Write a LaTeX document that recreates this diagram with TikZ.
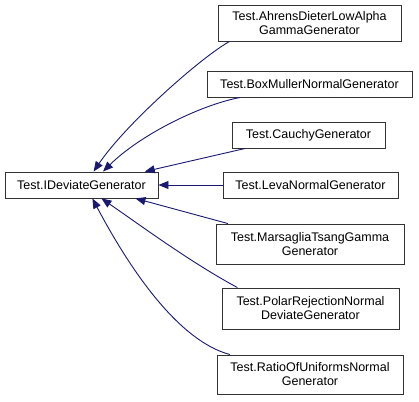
\documentclass[tikz,border=0pt]{standalone}
\usepackage{fontspec}
\setmainfont{Liberation Sans}
\usetikzlibrary{arrows.meta}

\begin{document}
\begin{tikzpicture}[x=1pt,y=-1pt,font=\fontsize{12.5}{14}\selectfont,cls/.style={draw=black!80, line width=0.9pt, fill=white, inner sep=0pt, align=center, minimum height=26pt},two/.style={cls, minimum height=39pt},edge/.style={draw={rgb,255:red,25;green,25;blue,112}, line width=0.9pt, -{Triangle[length=10pt,width=8pt]}}]
\useasboundingbox (0,0) rectangle (419,401);
\node[cls, minimum width=153pt] (base) at (81.5,185) {Test.IDeviateGenerator};
\node[two, minimum width=183pt, minimum height=36pt] (ahrens) at (309.5,23) {Test.AhrensDieterLowAlpha\\GammaGenerator};
\node[cls, minimum width=205pt] (boxmuller) at (309.5,84) {Test.BoxMullerNormalGenerator};
\node[cls, minimum width=153pt] (cauchy) at (308.5,135) {Test.CauchyGenerator};
\node[cls, minimum width=175pt] (leva) at (310.5,185) {Test.LevaNormalGenerator};
\node[two, minimum width=188pt, minimum height=40pt] (marsaglia) at (310,244) {Test.MarsagliaTsangGamma\\Generator};
\node[two, minimum width=177pt, minimum height=41pt] (polar) at (310.5,308.5) {Test.PolarRejectionNormal\\DeviateGenerator};
\node[two, minimum width=186pt] (ratio) at (310,374.5) {Test.RatioOfUniformsNormal\\Generator};
% inheritance edges
\draw[edge] (ahrens.193) .. controls (200,58) and (125,125) .. (base.48);
\draw[edge] (boxmuller.191) .. controls (200,105) and (140,135) .. (base.32);
\draw[edge] (cauchy.192) -- (base.12);
\draw[edge] (leva.west) -- (base.east);
\draw[edge] (marsaglia.166) -- (base.-14);
\draw[edge] (polar.164) .. controls (190,262) and (140,225) .. (base.-34);
\draw[edge] (ratio.166) .. controls (175,340) and (125,260) .. (base.-51);
\end{tikzpicture}
\end{document}
